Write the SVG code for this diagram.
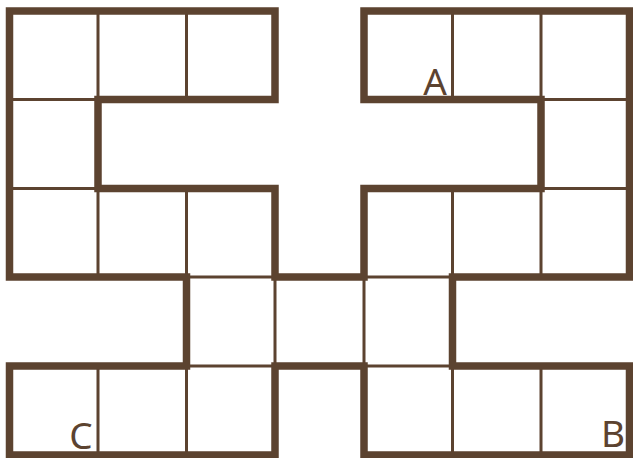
<svg xmlns="http://www.w3.org/2000/svg" width="633" height="458" viewBox="0 0 633 458">
<style>
.thin{fill:none;stroke:#5c4330;stroke-width:3}
.thick{fill:none;stroke:#5c4330;stroke-width:7.5;stroke-linejoin:miter;stroke-linecap:square}
.lbl{font-family:"Noto Sans","DejaVu Sans",sans-serif;font-size:37px;fill:#5c4330;text-anchor:middle}
</style>
<rect width="633" height="458" fill="#fff"/>
<g id="connectors">
<path class="thin" d="M98 11V99.5M98 188.5V277M98 366V455M186.5 11V99.5M186.5 188.5V277M186.5 366V455M275 277V366M364 277V366M452.5 11V99.5M452.5 188.5V277M452.5 366V455M541 11V99.5M541 188.5V277M541 366V455M9.5 99.5H98M9.5 188.5H98M541 99.5H629.5M541 188.5H629.5M186.5 277H275M186.5 366H275M364 277H452.5M364 366H452.5"/>
</g>
<g id="outline">
<path class="thick" d="M9.5 11H275V99.5H98V188.5H275V277H364V188.5H541V99.5H364V11H629.5V277H452.5V366H629.5V455H364V366H275V455H9.5V366H186.5V277H9.5Z"/>
</g>
<g id="label-A"><text class="lbl" x="435" y="94.5">A</text></g>
<g id="label-B"><text class="lbl" x="613" y="447">B</text></g>
<g id="label-C"><text class="lbl" x="81" y="448.5">C</text></g>
</svg>
